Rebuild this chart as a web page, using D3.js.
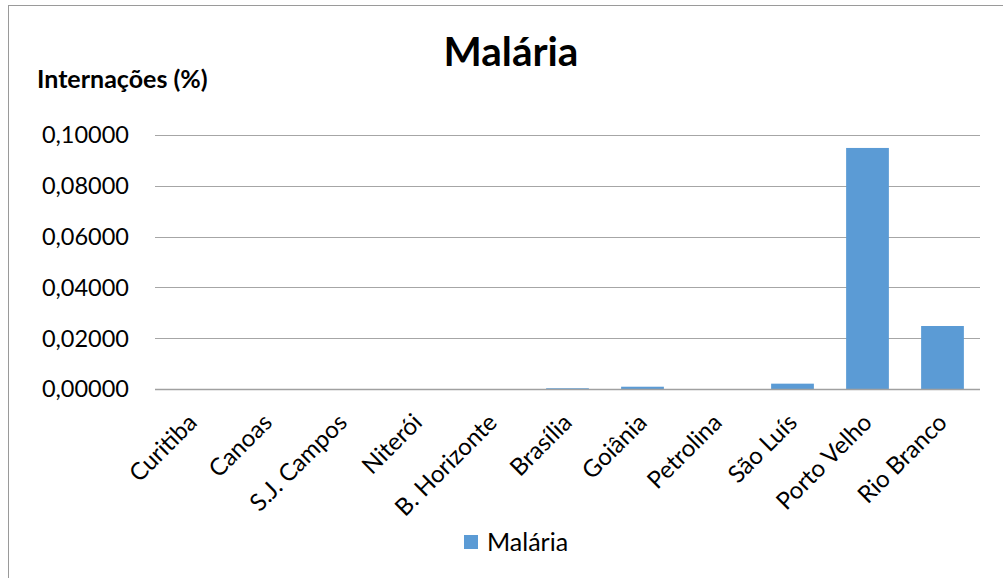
<!DOCTYPE html>
<meta charset="utf-8">
<style>
body { margin: 0; background: #fff; }
text { font-family: Lato, "Open Sans", sans-serif; fill: #000; }
.grid line { stroke: #a6a6a6; stroke-width: 1; }
</style>
<body>
<svg width="1003" height="578"></svg>
<script src="https://d3js.org/d3.v7.min.js"></script>
<script>
// data
var cities = ["Curitiba", "Canoas", "S.J. Campos", "Niterói", "B. Horizonte", "Brasília",
              "Goiânia", "Petrolina", "São Luís", "Porto Velho", "Rio Branco"];
var malaria = [0, 0, 0, 0, 0, 0.0003, 0.0009, 0, 0.0021, 0.0949, 0.0248];
var yTicks = [0, 0.02, 0.04, 0.06, 0.08, 0.10];

var svg = d3.select("svg");

// chart border (only left/top visible in reference)
svg.append("rect")
    .attr("x", 8.5).attr("y", 5.5)
    .attr("width", 1100).attr("height", 700)
    .attr("fill", "none")
    .attr("stroke", "#9a9a9a");

var x = d3.scaleBand()
    .domain(cities)
    .range([155, 980])
    .paddingInner(0.43)
    .paddingOuter(0.215);

var y = d3.scaleLinear()
    .domain([0, 0.10])
    .range([389, 135]);

var fmt = function(d) { return d3.format(".5f")(d).replace(".", ","); };

// gridlines
svg.append("g")
    .attr("class", "grid")
  .selectAll("line")
  .data(yTicks)
  .enter().append("line")
    .attr("x1", 155).attr("x2", 980)
    .attr("y1", function(d) { return Math.round(y(d)) + 0.5; })
    .attr("y2", function(d) { return Math.round(y(d)) + 0.5; });

// y tick labels
svg.append("g")
  .selectAll("text")
  .data(yTicks)
  .enter().append("text")
    .attr("x", 129)
    .attr("y", function(d) { return y(d); })
    .attr("dy", "0.36em")
    .attr("text-anchor", "end")
    .attr("font-size", "23.5px")
    .text(fmt);

// bars
svg.append("g")
  .selectAll("rect")
  .data(malaria)
  .enter().append("rect")
    .attr("x", function(d, i) { return x(cities[i]); })
    .attr("width", x.bandwidth())
    .attr("y", function(d) { return y(d); })
    .attr("height", function(d) { return y(0) - y(d); })
    .attr("fill", "#5b9bd5");

// baseline
svg.append("line")
    .attr("x1", 155).attr("x2", 980)
    .attr("y1", y(0) + 0.5).attr("y2", y(0) + 0.5)
    .attr("stroke", "#a0a0a0")
    .attr("stroke-width", 1.5);

// x labels
svg.append("g")
  .selectAll("text")
  .data(cities)
  .enter().append("text")
    .attr("transform", function(d) {
      return "translate(" + (x(d) + x.bandwidth() / 2 + 6) + ",424) rotate(-45)";
    })
    .attr("text-anchor", "end")
    .attr("font-size", "24px")
    .text(function(d) { return d; });

// title
svg.append("text")
    .attr("x", 511).attr("y", 66)
    .attr("text-anchor", "middle")
    .attr("font-size", "40.5px")
    .attr("font-weight", "bold")
    .text("Malária");

// y axis title
svg.append("text")
    .attr("x", 37).attr("y", 88)
    .attr("font-size", "25px")
    .attr("font-weight", "bold")
    .text("Internações (%)");

// legend
svg.append("rect")
    .attr("x", 464).attr("y", 535)
    .attr("width", 14).attr("height", 14)
    .attr("fill", "#5b9bd5");
svg.append("text")
    .attr("x", 487).attr("y", 551)
    .attr("font-size", "25px")
    .text("Malária");
</script>
</body>
